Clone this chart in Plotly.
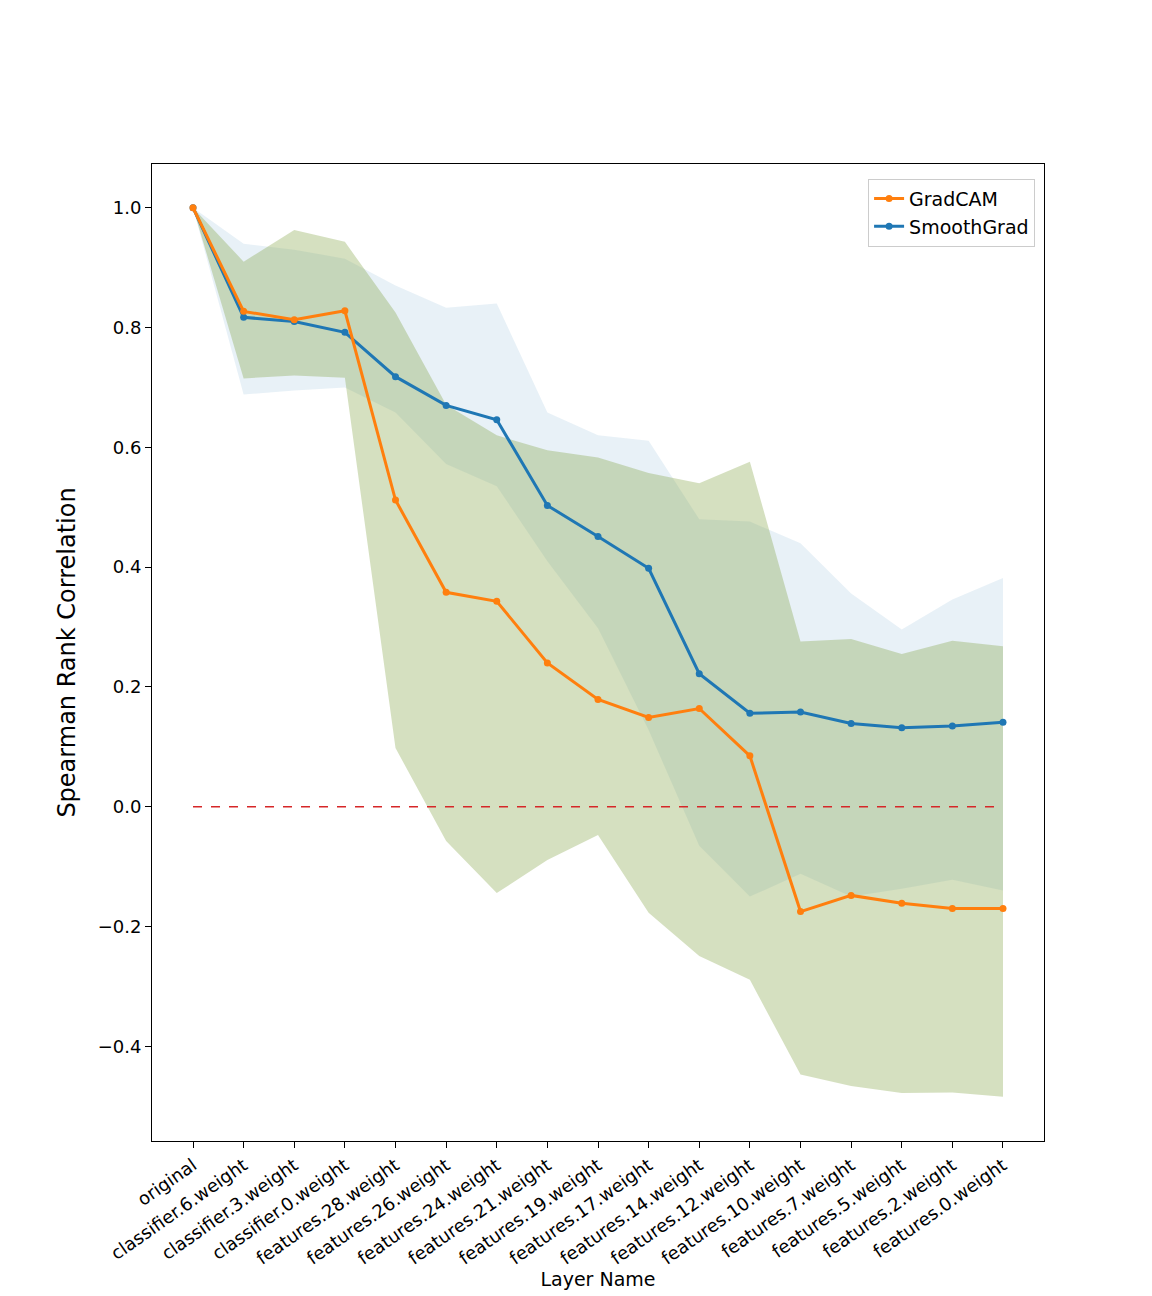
import plotly.graph_objects as go

layers = ["original", "classifier.6.weight", "classifier.3.weight", "classifier.0.weight",
          "features.28.weight", "features.26.weight", "features.24.weight", "features.21.weight",
          "features.19.weight", "features.17.weight", "features.14.weight", "features.12.weight",
          "features.10.weight", "features.7.weight", "features.5.weight", "features.2.weight",
          "features.0.weight"]

sg_mean = [1.0, 0.817, 0.81, 0.792, 0.718, 0.67, 0.646, 0.503, 0.451, 0.398, 0.222, 0.156,
           0.158, 0.139, 0.132, 0.135, 0.141]
sg_upper = [1.0, 0.94, 0.93, 0.915, 0.87, 0.833, 0.84, 0.658, 0.62, 0.611, 0.48, 0.476,
            0.44, 0.356, 0.296, 0.346, 0.382]
sg_lower = [1.0, 0.688, 0.695, 0.70, 0.658, 0.572, 0.535, 0.41, 0.298, 0.128, -0.065, -0.15,
            -0.112, -0.15, -0.137, -0.122, -0.14]

gc_mean = [1.0, 0.827, 0.813, 0.828, 0.512, 0.358, 0.343, 0.240, 0.179, 0.149, 0.164, 0.085,
           -0.175, -0.148, -0.161, -0.170, -0.170]
gc_upper = [1.0, 0.91, 0.963, 0.943, 0.825, 0.671, 0.62, 0.595, 0.583, 0.557, 0.54, 0.576,
            0.276, 0.28, 0.255, 0.277, 0.268]
gc_lower = [1.0, 0.715, 0.72, 0.716, 0.098, -0.057, -0.144, -0.089, -0.047, -0.177, -0.249,
            -0.289, -0.447, -0.466, -0.478, -0.477, -0.484]

x = list(range(len(layers)))
fig = go.Figure()

# bands
for up, lo, col in [(sg_upper, sg_lower, "rgba(31,119,180,0.1)"),
                    (gc_upper, gc_lower, "rgba(128,160,64,0.33)")]:
    fig.add_trace(go.Scatter(x=x, y=up, mode="lines", line=dict(width=0), showlegend=False,
                             hoverinfo="skip"))
    fig.add_trace(go.Scatter(x=x, y=lo, mode="lines", line=dict(width=0), fill="tonexty",
                             fillcolor=col, showlegend=False, hoverinfo="skip"))

fig.add_trace(go.Scatter(x=[0, 16], y=[0, 0], mode="lines", showlegend=False,
                         line=dict(color="#d62728", width=1.5, dash="dash")))

fig.add_trace(go.Scatter(x=x, y=sg_mean, mode="lines+markers", name="SmoothGrad",
                         line=dict(color="#1f77b4", width=3), marker=dict(size=7)))
fig.add_trace(go.Scatter(x=x, y=gc_mean, mode="lines+markers", name="GradCAM",
                         line=dict(color="#ff7f0e", width=3), marker=dict(size=7)))

axis_common = dict(showgrid=False, zeroline=False, mirror=True, showline=True,
                   linecolor="black", linewidth=1, ticks="outside", ticklen=6,
                   tickcolor="black", tickfont=dict(size=18, color="black"))

fig.update_xaxes(range=[-0.81, 16.81], tickmode="array", tickvals=x, ticktext=layers,
                 tickangle=-35, title=dict(text="Layer Name", font=dict(size=19, color="black"),
                                           standoff=4),
                 **axis_common)
fig.update_yaxes(range=[-0.558, 1.073], tickmode="array",
                 tickvals=[-0.4, -0.2, 0.0, 0.2, 0.4, 0.6, 0.8, 1.0],
                 ticktext=["\u22120.4", "\u22120.2", "0.0", "0.2", "0.4", "0.6", "0.8", "1.0"],
                 title=dict(text="Spearman Rank Correlation", font=dict(size=24, color="black")),
                 **axis_common)

fig.update_layout(width=1152, height=1296, plot_bgcolor="white", paper_bgcolor="white",
                  margin=dict(l=144, r=116, t=156, b=163),
                  font=dict(family="DejaVu Sans", color="black"),
                  legend=dict(x=0.99, y=0.985, xanchor="right", yanchor="top",
                              bgcolor="rgba(255,255,255,0.8)", bordercolor="#cccccc",
                              borderwidth=1, font=dict(size=19)))

fig.write_html("out.html")
